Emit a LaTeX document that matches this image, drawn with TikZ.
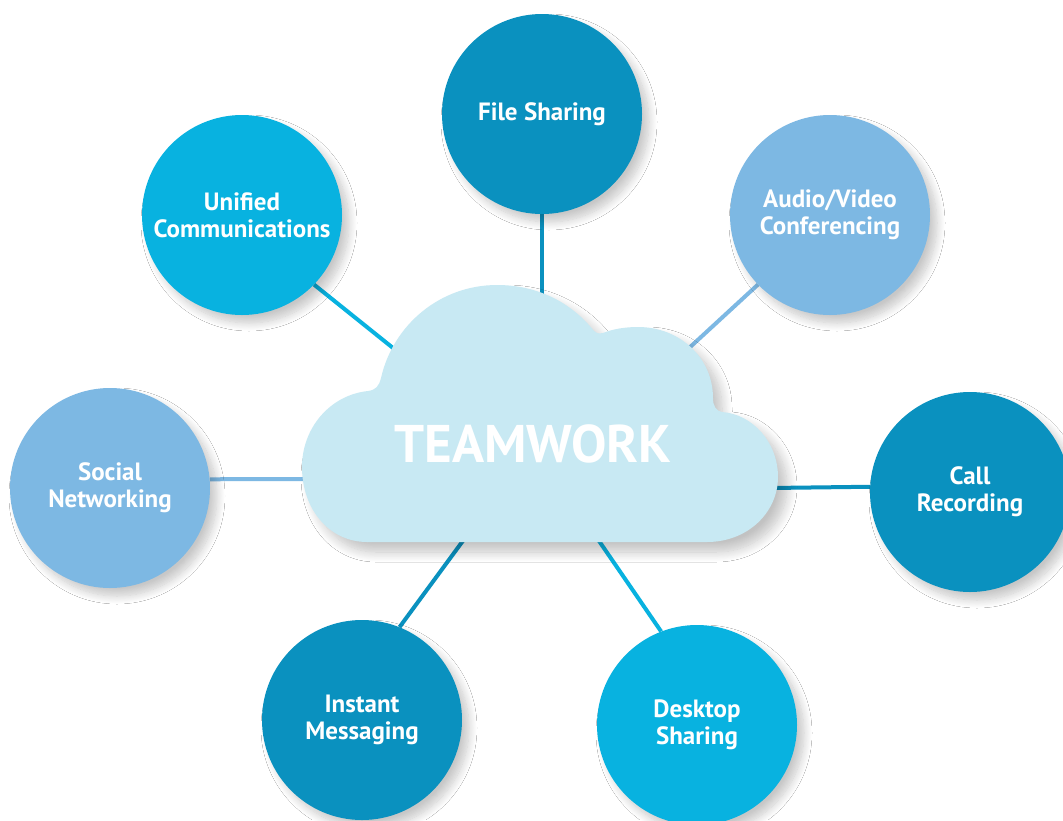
\documentclass[tikz,border=0pt]{standalone}
\usepackage{fontspec}
\setmainfont{PT Sans}
\usetikzlibrary{shadows.blur}
\pgfdeclarelayer{background}
\pgfsetlayers{background,main}
\definecolor{dteal}{HTML}{0A91BF}
\definecolor{cyanb}{HTML}{08B2E0}
\definecolor{lblue}{HTML}{7DB8E3}
\definecolor{cloudc}{HTML}{C8E9F3}
\begin{document}
\begin{tikzpicture}[x=1pt,y=-1pt,
  bub/.style={circle, minimum size=200pt, inner sep=0pt, text=white,
    font=\bfseries\fontsize{25}{27}\selectfont, align=center,
    blur shadow={shadow xshift=7pt, shadow yshift=-8pt, shadow blur radius=8pt, shadow blur steps=12, shadow opacity=22}},
  link/.style={line width=4pt},
  cloudshape/.style={fill=cloudc, blur shadow={shadow xshift=9pt, shadow yshift=-10pt, shadow blur radius=10pt, shadow blur steps=12, shadow opacity=24}}]
\useasboundingbox (0,0) rectangle (1063,820);
\clip (0,0) rectangle (1063,820);

% circles
\node[bub, fill=dteal] (file) at (542,114) {File Sharing};
\node[bub, fill=cyanb] (uni) at (242,215) {Unified\\Communications};
\node[bub, fill=lblue] (av) at (830,215) {Audio/Video\\Conferencing};
\node[bub, fill=lblue] (soc) at (110,488) {Social\\Networking};
\node[bub, fill=dteal] (call) at (970,492) {Call\\Recording};
\node[bub, fill=dteal] (im) at (362,720) {Instant\\Messaging};
\node[bub, fill=cyanb] (desk) at (697,725) {Desktop\\Sharing};

% cloud
\fill[cloudshape] (367,542) -- (707,542)
  .. controls (748,542) and (778,512) .. (778,477)
  .. controls (778,442) and (752,414) .. (722,412)
  .. controls (716,411) and (713,406) .. (713,398)
  .. controls (713,358) and (680,327) .. (638,327)
  .. controls (625,327) and (613,329) .. (603,333)
  .. controls (598,334) and (596,333) .. (594,331)
  .. controls (571,302) and (537,285) .. (497,285)
  .. controls (440,285) and (393,325) .. (381,378)
  .. controls (379,386) and (376,390) .. (368,391)
  .. controls (330,395) and (302,428) .. (302,467)
  .. controls (302,510) and (330,542) .. (367,542) -- cycle;

\node[text=white, font=\bfseries\fontsize{53}{53}\selectfont] (tw) at (533,444) {TEAMWORK};

% cloud ends of connectors
\coordinate (cF) at (542,300);
\coordinate (cU) at (398,352);
\coordinate (cA) at (688,349);
\coordinate (cS) at (312,479);
\coordinate (cC) at (770,488);
\coordinate (cI) at (465,538);
\coordinate (cD) at (597,538);

\begin{pgfonlayer}{background}
  \fill[white] (0,0) rectangle (1063,820);
  \draw[link, dteal] (file.south) -- (cF);
  \draw[link, cyanb] (uni.316) -- (cU);
  \draw[link, lblue] (av.224.6) -- (cA);
  \draw[link, lblue] (soc.5.2) -- (cS);
  \draw[link, dteal] (call.177.7) -- (cC);
  \draw[link, dteal] (im.68.8) -- (cI);
  \draw[link, cyanb] (desk.111) -- (cD);
\end{pgfonlayer}
\end{tikzpicture}
\end{document}
